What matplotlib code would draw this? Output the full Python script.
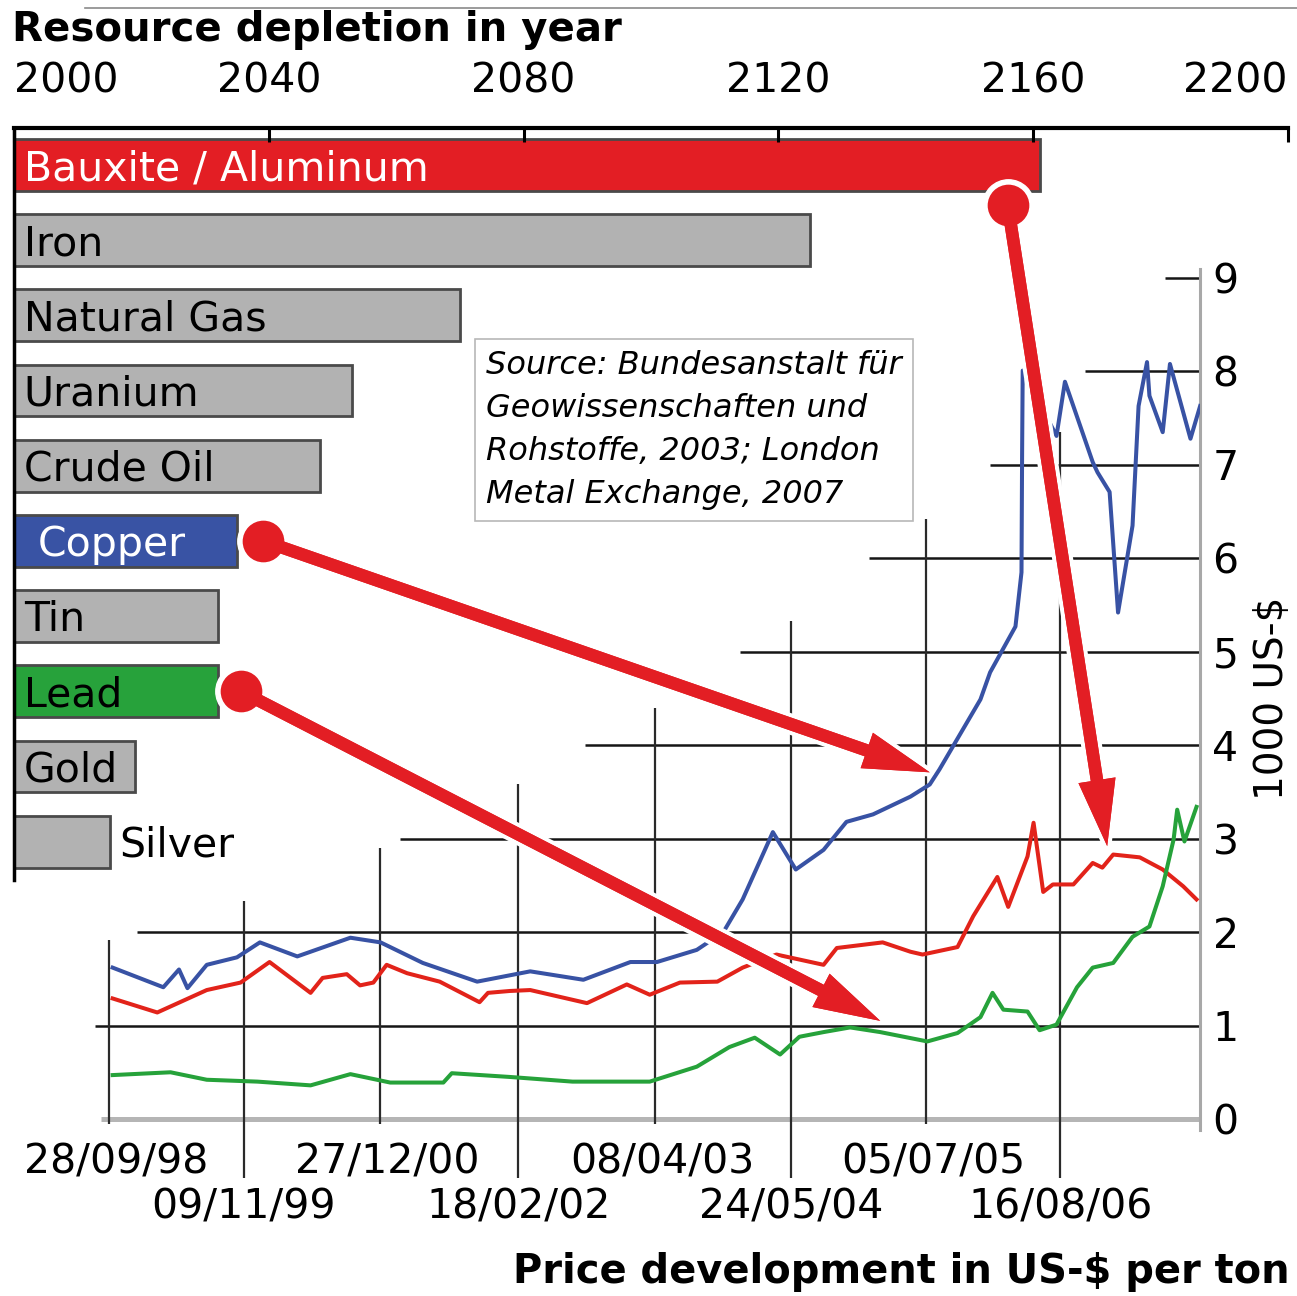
import pandas as pd
import matplotlib
matplotlib.use("Agg")
import matplotlib.pyplot as plt
import matplotlib.patheffects as pe
from matplotlib.lines import Line2D
from matplotlib.patches import ConnectionPatch

plt.rcParams['font.family'] = ['DejaVu Sans']

# Depletion year per resource (top chart)
resources = ['Bauxite / Aluminum', 'Iron', 'Natural Gas', 'Uranium', 'Crude Oil',
             'Copper', 'Tin', 'Lead', 'Gold', 'Silver']
depletion_year = [2161, 2125, 2070, 2053, 2048, 2035, 2032, 2032, 2019, 2015]
bar_colors = ['#e31e24', '#b2b2b2', '#b2b2b2', '#b2b2b2', '#b2b2b2',
              '#3953a4', '#b2b2b2', '#27a23b', '#b2b2b2', '#b2b2b2']
label_colors = ['white', 'black', 'black', 'black', 'black',
                'white', 'black', 'black', 'black', 'black']
year_ticks = [2000, 2040, 2080, 2120, 2160, 2200]

# Prices in 1000 US-$ per ton, time in decimal years
copper_t = [1998.77, 1999.19, 1999.32, 1999.39, 1999.55, 1999.80, 1999.99, 2000.30,
            2000.74, 2000.99, 2001.34, 2001.79, 2002.23, 2002.67, 2003.06, 2003.28,
            2003.61, 2003.83, 2003.99, 2004.24, 2004.43, 2004.66, 2004.85, 2005.07,
            2005.38, 2005.54, 2005.62, 2005.96, 2006.04, 2006.25, 2006.30, 2006.305,
            2006.31, 2006.59, 2006.66, 2006.89, 2006.93, 2007.03, 2007.10, 2007.22,
            2007.27, 2007.34, 2007.36, 2007.47, 2007.53, 2007.70, 2007.78]
copper_v = [1.62, 1.41, 1.60, 1.40, 1.65, 1.73, 1.89, 1.74,
            1.94, 1.89, 1.67, 1.47, 1.58, 1.49, 1.68, 1.68,
            1.81, 2.00, 2.35, 3.07, 2.67, 2.88, 3.18, 3.26,
            3.45, 3.58, 3.74, 4.49, 4.78, 5.27, 5.85, 7.10,
            8.01, 7.31, 7.89, 7.03, 6.92, 6.71, 5.42, 6.35,
            7.63, 8.10, 7.74, 7.35, 8.08, 7.28, 7.63]

aluminum_t = [1998.77, 1999.14, 1999.55, 1999.83, 2000.07, 2000.41, 2000.51, 2000.71,
              2000.82, 2000.93, 2001.04, 2001.21, 2001.48, 2001.81, 2001.88, 2002.06,
              2002.23, 2002.70, 2003.03, 2003.22, 2003.47, 2003.78, 2003.99, 2004.27,
              2004.66, 2004.77, 2005.15, 2005.38, 2005.48, 2005.77, 2005.90, 2006.10,
              2006.19, 2006.35, 2006.40, 2006.48, 2006.56, 2006.73, 2006.89, 2006.97,
              2007.06, 2007.28, 2007.47, 2007.64, 2007.75]
aluminum_v = [1.29, 1.14, 1.38, 1.46, 1.68, 1.35, 1.51, 1.55,
              1.43, 1.46, 1.65, 1.56, 1.47, 1.25, 1.35, 1.37,
              1.38, 1.24, 1.44, 1.33, 1.46, 1.47, 1.62, 1.76,
              1.65, 1.83, 1.89, 1.79, 1.76, 1.84, 2.17, 2.59,
              2.27, 2.81, 3.17, 2.43, 2.51, 2.51, 2.74, 2.69,
              2.83, 2.80, 2.67, 2.49, 2.35]

lead_t = [1998.77, 1999.25, 1999.55, 1999.97, 2000.41, 2000.74, 2001.07, 2001.51,
          2001.58, 2002.06, 2002.58, 2003.22, 2003.61, 2003.88, 2004.09, 2004.30,
          2004.46, 2004.66, 2004.88, 2005.13, 2005.52, 2005.77, 2005.96, 2006.06,
          2006.15, 2006.35, 2006.45, 2006.59, 2006.76, 2006.89, 2007.06, 2007.22,
          2007.36, 2007.47, 2007.56, 2007.59, 2007.65, 2007.75]
lead_v = [0.47, 0.50, 0.42, 0.40, 0.36, 0.48, 0.39, 0.39,
          0.49, 0.45, 0.40, 0.40, 0.56, 0.77, 0.87, 0.69,
          0.88, 0.93, 0.98, 0.93, 0.83, 0.92, 1.09, 1.35,
          1.17, 1.15, 0.95, 1.01, 1.41, 1.62, 1.67, 1.95,
          2.06, 2.49, 2.99, 3.31, 2.97, 3.34]

date_ticks = ['1998-09-28', '1999-11-09', '2000-12-27', '2002-02-18',
              '2003-04-08', '2004-05-24', '2005-07-05', '2006-08-16']
date_labels = ['28/09/98', '09/11/99', '27/12/00', '18/02/02',
               '08/04/03', '24/05/04', '05/07/05', '16/08/06']
price_ticks = list(range(10))
# staggered grid: where each horizontal line starts, where each vertical line ends
hline_start = [1998.67, 1998.62, 1998.97, 2001.15, 2002.68, 2003.97,
               2005.04, 2006.04, 2006.83, 2007.49]
vline_top = [1.92, 2.33, 2.90, 3.58, 4.40, 5.33, 6.42, 7.35]

RED = '#e31e24'


def dec_year(s):
    d = pd.Timestamp(s)
    start = pd.Timestamp(d.year, 1, 1)
    end = pd.Timestamp(d.year + 1, 1, 1)
    return d.year + (d - start) / (end - start)


tick_t = [dec_year(s) for s in date_ticks]

W, H = 1297, 1296
fig = plt.figure(figsize=(W / 100, H / 100), dpi=100)

# ---- depletion bars ----
axb = fig.add_axes([14 / W, 1 - 880 / H, (1288 - 14) / W, (880 - 128) / H])
axb.patch.set_visible(False)
idx = list(range(len(resources)))
axb.barh(idx, [y - 2000 for y in depletion_year], left=2000, height=0.69,
         color=bar_colors, edgecolor='#4a4a4a', linewidth=2)
axb.set_xlim(2000, 2200)
axb.set_ylim(9.51, -0.49)
axb.xaxis.tick_top()
axb.set_xticks(year_ticks)
axb.set_xticklabels([str(y) for y in year_ticks])
axb.tick_params(axis='x', direction='in', length=10, width=2.2, pad=19,
                labelsize=29.5, color='black')
tl = axb.get_xticklabels()
tl[0].set_ha('left')
tl[-1].set_ha('right')
axb.set_yticks([])
axb.spines['top'].set_linewidth(3)
axb.spines['left'].set_linewidth(2.5)
axb.spines['right'].set_visible(False)
axb.spines['bottom'].set_visible(False)

for i, name in enumerate(resources):
    if name == 'Silver':
        axb.annotate(name, (depletion_year[i], i), xytext=(7, -3),
                     textcoords='offset points', va='center', fontsize=29.5,
                     color=label_colors[i])
    else:
        off = 17 if name == 'Copper' else 7
        axb.annotate(name, (2000, i), xytext=(off, -3), textcoords='offset points',
                     va='center', fontsize=29.5, color=label_colors[i])

# ---- price lines ----
t0 = 1998.74 + (95 - 109) / 120.7
t1 = 1998.74 + (1200 - 109) / 120.7
axl = fig.add_axes([95 / W, 1 - 1119 / H, (1200 - 95) / W, (1119 - 278) / H])
axl.patch.set_visible(False)
axl.set_xlim(t0, t1)
axl.set_ylim(0, 9)
for s in ['top', 'left', 'bottom']:
    axl.spines[s].set_visible(False)
axl.spines['right'].set_color('#a8a8a8')
axl.spines['right'].set_linewidth(2.2)
axl.spines['right'].set_bounds(-0.12, 9.1)
axl.yaxis.tick_right()
axl.set_yticks(price_ticks)
axl.tick_params(axis='y', length=0, pad=9, labelsize=29.5)
axl.set_xticks([])
axl.yaxis.set_label_position('right')
axl.set_ylabel('1000 US-$', fontsize=28, labelpad=10)

for v, xs in zip(price_ticks, hline_start):
    if v == 0:
        axl.hlines(v, xs, t1, color='#b5b5b5', lw=3.6, zorder=1, clip_on=False)
    else:
        axl.hlines(v, xs, t1, color='#151515', lw=1.8, zorder=1, clip_on=False)

for k, (t, top) in enumerate(zip(tick_t, vline_top)):
    low = -0.05 if k % 2 == 0 else -0.63
    axl.vlines(t, low, top, color='#2a2a2a', lw=1.6, zorder=1, clip_on=False)
    yl = -0.47 if k % 2 == 0 else -0.95
    axl.text(t + (0.06 if k % 2 == 0 else 0), yl, date_labels[k], ha='center',
             va='center', fontsize=29.5)

axl.plot(copper_t, copper_v, color='#3852a4', lw=2.9, zorder=3)
axl.plot(aluminum_t, aluminum_v, color='#e2231a', lw=2.9, zorder=3)
axl.plot(lead_t, lead_v, color='#26a23a', lw=2.9, zorder=3)

# ---- arrows from depletion bars to price curves ----
halo = [pe.withStroke(linewidth=6, foreground='white')]
links = [((2039.1, 5), (2005.54, 3.71)),
         ((2035.6, 7), (2005.13, 1.05)),
         ((2156.0, 0.53), (2007.01, 2.92))]
for (xa, ya), _ in links:
    fig.add_artist(Line2D([xa], [ya], transform=axb.transData, marker='o',
                          markersize=37, color='white', zorder=10))
for (xa, ya), (xb, yb) in links:
    con = ConnectionPatch((xa, ya), (xb, yb), coordsA=axb.transData,
                          coordsB=axl.transData,
                          arrowstyle='simple,head_length=4.8,head_width=2.7,tail_width=0.9',
                          mutation_scale=10, shrinkA=0, shrinkB=0,
                          color=RED, lw=0, zorder=11)
    con.set_path_effects(halo + [pe.Normal()])
    fig.add_artist(con)
for (xa, ya), _ in links:
    fig.add_artist(Line2D([xa], [ya], transform=axb.transData, marker='o',
                          markersize=30, color=RED, markeredgewidth=0, zorder=12))

# ---- texts ----
fig.text(12 / W, 1 - 30 / H, 'Resource depletion in year', fontsize=29,
         fontweight='bold', ha='left', va='center')
fig.text(1290 / W, 1 - 1272 / H, 'Price development in US-$ per ton', fontsize=28.8,
         fontweight='bold', ha='right', va='center')
fig.text(486 / W, 1 - 350 / H,
         'Source: Bundesanstalt für\nGeowissenschaften und\n'
         'Rohstoffe, 2003; London\nMetal Exchange, 2007',
         fontsize=23, fontstyle='italic', ha='left', va='top', linespacing=1.5,
         bbox=dict(boxstyle='square,pad=0.35', fc='white', ec='#b8b8b8', lw=1.2),
         zorder=5)

# thin page rule at the very top
fig.add_artist(Line2D([85 / W, 1], [1 - 8 / H, 1 - 8 / H], transform=fig.transFigure,
                      color='#8a8a8a', lw=1.2))

fig.savefig('out.png', dpi=100)
